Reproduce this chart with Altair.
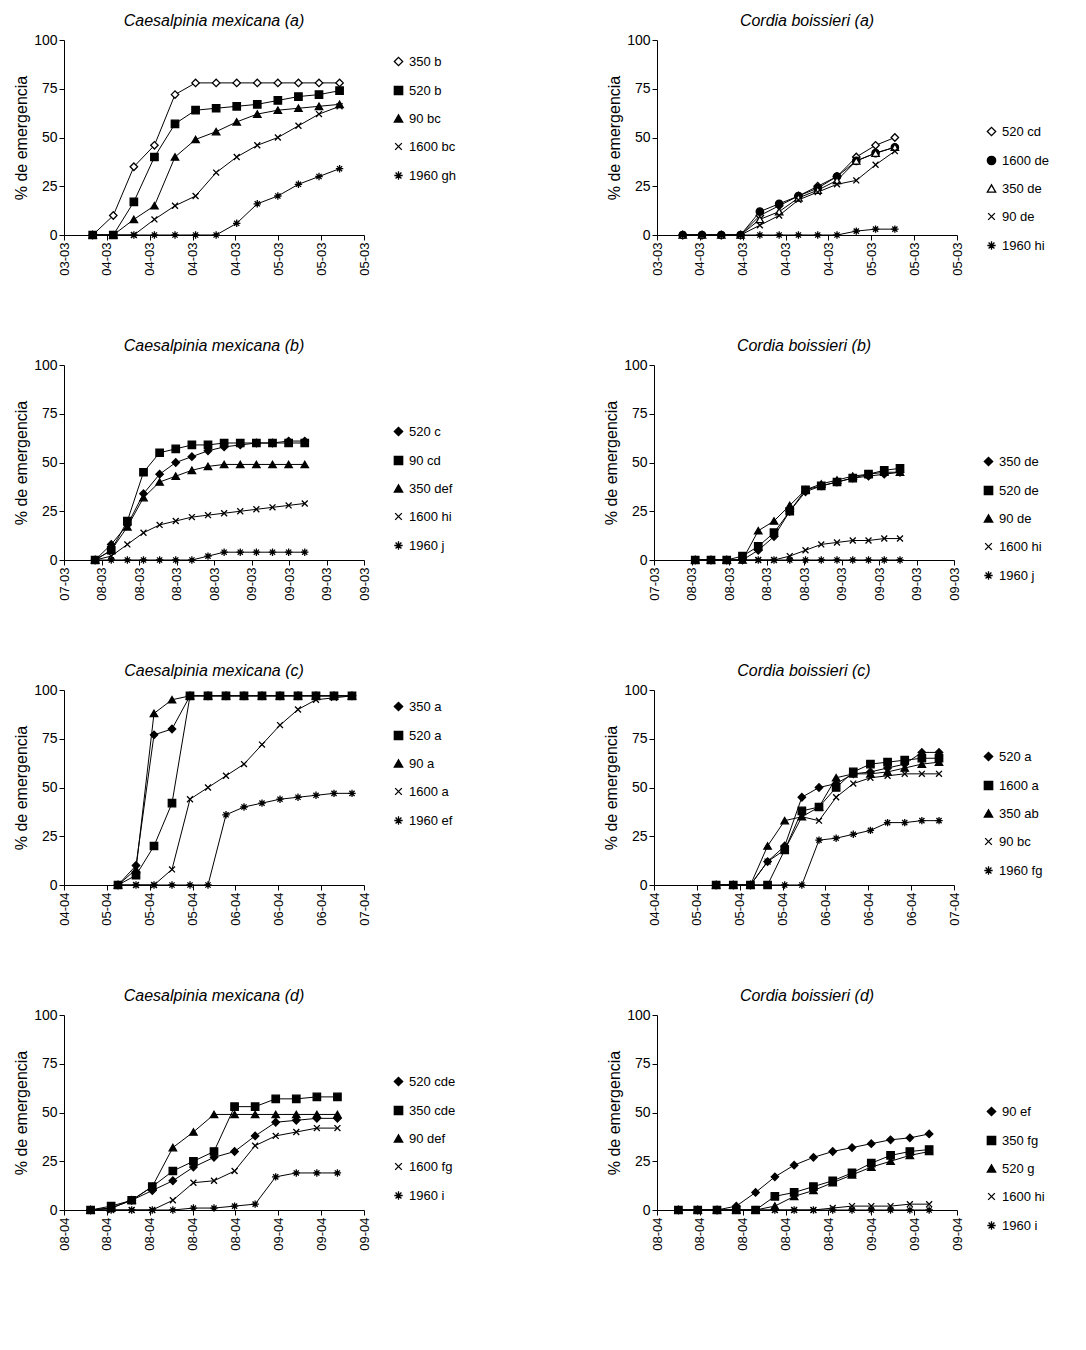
import altair as alt
import pandas as pd

ticks_a = ["03-03","04-03","04-03","04-03","04-03","05-03","05-03","05-03"]
ticks_b = ["07-03","08-03","08-03","08-03","08-03","09-03","09-03","09-03","09-03"]
ticks_c = ["04-04","05-04","05-04","05-04","06-04","06-04","06-04","07-04"]
ticks_d = ["08-04","08-04","08-04","08-04","08-04","09-04","09-04","09-04"]

DIAM, SQ, TRI, CIRC = "diamond", "square", "triangle-up", "circle"
XS = "M-0.8,-0.8L0.8,0.8M-0.8,0.8L0.8,-0.8"
AST = "M-1,0L1,0M0,-1L0,1M-0.7,-0.7L0.7,0.7M-0.7,0.7L0.7,-0.7"

panels = [
  dict(title="Caesalpinia mexicana (a)", ticks=ticks_a, x0=0.67, dx=0.48, ly=15,
       names=["350 b","520 b","90 bc","1600 bc","1960 gh"],
       shapes=[DIAM,SQ,TRI,XS,AST], fills=["white","black","black","transparent","transparent"],
       vals=[[0,10,35,46,72,78,78,78,78,78,78,78,78],
             [0,0,17,40,57,64,65,66,67,69,71,72,74],
             [0,0,8,15,40,49,53,58,62,64,65,66,67],
             [0,0,0,8,15,20,32,40,46,50,56,62,66],
             [0,0,0,0,0,0,0,6,16,20,26,30,34]]),
  dict(title="Cordia boissieri (a)", ticks=ticks_a, x0=0.6, dx=0.45, ly=85,
       names=["520 cd","1600 de","350 de","90 de","1960 hi"],
       shapes=[DIAM,CIRC,TRI,XS,AST], fills=["white","black","white","transparent","transparent"],
       vals=[[0,0,0,0,10,15,20,25,30,40,46,50],
             [0,0,0,0,12,16,20,24,30,38,42,45],
             [0,0,0,0,8,12,19,23,28,38,42,45],
             [0,0,0,0,5,10,18,22,26,28,36,43],
             [0,0,0,0,0,0,0,0,0,2,3,3]]),
  dict(title="Caesalpinia mexicana (b)", ticks=ticks_b, x0=0.83, dx=0.43, ly=60,
       names=["520 c","90 cd","350 def","1600 hi","1960 j"],
       shapes=[DIAM,SQ,TRI,XS,AST], fills=["black","black","black","transparent","transparent"],
       vals=[[0,8,18,34,44,50,53,56,58,59,60,60,61,61],
             [0,5,20,45,55,57,59,59,60,60,60,60,60,60],
             [0,5,17,32,40,43,46,48,49,49,49,49,49,49],
             [0,2,8,14,18,20,22,23,24,25,26,27,28,29],
             [0,0,0,0,0,0,0,2,4,4,4,4,4,4]]),
  dict(title="Cordia boissieri (b)", ticks=ticks_b, x0=1.1, dx=0.42, ly=90,
       names=["350 de","520 de","90 de","1600 hi","1960 j"],
       shapes=[DIAM,SQ,TRI,XS,AST], fills=["black","black","black","transparent","transparent"],
       vals=[[0,0,0,0,5,12,25,35,38,40,42,43,44,45],
             [0,0,0,2,7,14,25,36,38,40,42,44,46,47],
             [0,0,0,0,15,20,28,36,39,41,43,44,45,45],
             [0,0,0,0,0,0,2,5,8,9,10,10,11,11],
             [0,0,0,0,0,0,0,0,0,0,0,0,0,0]]),
  dict(title="Caesalpinia mexicana (c)", ticks=ticks_c, x0=1.26, dx=0.42, ly=10,
       names=["350 a","520 a","90 a","1600 a","1960 ef"],
       shapes=[DIAM,SQ,TRI,XS,AST], fills=["black","black","black","transparent","transparent"],
       vals=[[0,10,77,80,97,97,97,97,97,97,97,97,97,97],
             [0,5,20,42,97,97,97,97,97,97,97,97,97,97],
             [0,8,88,95,97,97,97,97,97,97,97,97,97,97],
             [0,0,0,8,44,50,56,62,72,82,90,95,96,97],
             [0,0,0,0,0,0,36,40,42,44,45,46,47,47]]),
  dict(title="Cordia boissieri (c)", ticks=ticks_c, x0=1.45, dx=0.4, ly=60,
       names=["520 a","1600 a","350 ab","90 bc","1960 fg"],
       shapes=[DIAM,SQ,TRI,XS,AST], fills=["black","black","black","transparent","transparent"],
       vals=[[0,0,0,12,20,45,50,52,57,58,60,62,68,68],
             [0,0,0,0,18,38,40,50,58,62,63,64,65,65],
             [0,0,0,20,33,35,40,55,57,57,58,60,62,63],
             [0,0,0,12,18,35,33,45,52,55,56,57,57,57],
             [0,0,0,0,0,0,23,24,26,28,32,32,33,33]]),
  dict(title="Caesalpinia mexicana (d)", ticks=ticks_d, x0=0.62, dx=0.48, ly=60,
       names=["520 cde","350 cde","90 def","1600 fg","1960 i"],
       shapes=[DIAM,SQ,TRI,XS,AST], fills=["black","black","black","transparent","transparent"],
       vals=[[0,1,5,10,15,22,27,30,38,45,46,47,47],
             [0,2,5,12,20,25,30,53,53,57,57,58,58],
             [0,1,5,12,32,40,49,49,49,49,49,49,49],
             [0,0,0,0,5,14,15,20,33,38,40,42,42],
             [0,0,0,0,0,1,1,2,3,17,19,19,19]]),
  dict(title="Cordia boissieri (d)", ticks=ticks_d, x0=0.5, dx=0.45, ly=90,
       names=["90 ef","350 fg","520 g","1600 hi","1960 i"],
       shapes=[DIAM,SQ,TRI,XS,AST], fills=["black","black","black","transparent","transparent"],
       vals=[[0,0,0,2,9,17,23,27,30,32,34,36,37,39],
             [0,0,0,0,0,7,9,12,15,19,24,28,30,31],
             [0,0,0,0,0,2,7,10,14,18,22,25,28,30],
             [0,0,0,0,0,0,0,0,1,2,2,2,3,3],
             [0,0,0,0,0,0,0,0,0,0,0,0,0,0]]),
]

FONT = "Liberation Sans"
W, H = 300, 195

def make_panel(p):
    rows = []
    for name, vals in zip(p["names"], p["vals"]):
        for i, v in enumerate(vals):
            rows.append({"s": name, "x": p["x0"] + i * p["dx"], "y": v})
    df = pd.DataFrame(rows)
    n = len(p["ticks"])
    arr = "[" + ",".join("'%s'" % t for t in p["ticks"]) + "]"
    xax = alt.X("x:Q", scale=alt.Scale(domain=[0, n - 1], nice=False),
                axis=alt.Axis(values=list(range(n)), labelExpr=arr + "[datum.value]",
                              labelAngle=270, title=None, grid=False, labelFontSize=13,
                              domainColor="black", tickColor="black", labelColor="black"))
    yax = alt.Y("y:Q", scale=alt.Scale(domain=[0, 100]),
                axis=alt.Axis(values=[0, 25, 50, 75, 100], title="% de emergencia", grid=False,
                              titleFontSize=16, titleFontWeight="normal", labelFontSize=14,
                              domainColor="black", tickColor="black", labelColor="black",
                              titleColor="black"))
    leg = alt.Legend(title=None, labelFontSize=13, symbolStrokeWidth=1.3, symbolSize=70,
                     rowPadding=14, orient="none", legendX=W + 28, legendY=p["ly"])
    base = alt.Chart(df)
    line = base.mark_line(color="black", strokeWidth=1).encode(x=xax, y=yax, detail="s:N")
    pts = base.mark_point(strokeWidth=1.3, size=55, opacity=1).encode(
        x=xax, y=yax,
        shape=alt.Shape("s:N", scale=alt.Scale(domain=p["names"], range=p["shapes"]), legend=leg),
        fill=alt.Fill("s:N", scale=alt.Scale(domain=p["names"], range=p["fills"]), legend=leg),
        stroke=alt.Stroke("s:N", scale=alt.Scale(domain=p["names"], range=["black"] * 5), legend=leg),
    )
    return alt.layer(line, pts).properties(
        width=W, height=H,
        title=alt.TitleParams(p["title"], fontStyle="italic", fontWeight="normal",
                              fontSize=16, font=FONT, color="black"))

ind = dict(shape="independent", fill="independent", stroke="independent")
rows = []
for r in range(4):
    rows.append(alt.hconcat(make_panel(panels[2 * r]), make_panel(panels[2 * r + 1]), spacing=150)
                .resolve_scale(**ind))

chart = alt.vconcat(*rows, spacing=62).resolve_scale(**ind).configure(
    font=FONT).configure_view(stroke=None).configure_legend(labelFont=FONT, labelColor="black")

chart.save("out.html", embed_options={"renderer": "svg", "actions": False})
